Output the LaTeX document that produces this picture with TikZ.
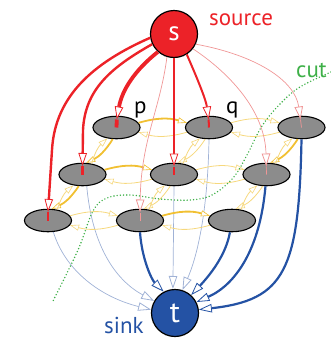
\documentclass[tikz,border=0pt]{standalone}
\usepackage{fontspec}
\newfontfamily\lbl{PT Sans}
\usetikzlibrary{arrows.meta,shapes.geometric,calc}
\definecolor{srcred}{RGB}{236,34,40}
\definecolor{pinkthin}{RGB}{240,150,150}
\definecolor{sinkblue}{RGB}{36,82,164}
\definecolor{lightblue}{RGB}{160,178,214}
\definecolor{gthick}{RGB}{241,192,50}
\definecolor{gthin}{RGB}{246,216,125}
\definecolor{nodegray}{RGB}{140,140,140}
\definecolor{cutgreen}{RGB}{62,176,72}
\newcommand\hpair[4]{%
  \draw[#3,ytip] (#1.12) to[bend left=16] (#2.168);
  \draw[#4,ytip] (#2.192) to[bend left=16] (#1.-12);}
\newcommand\dpair[4]{%
  \draw[#3,ytip] (#1.252) to[bend left=16] (#2.72);
  \draw[#4,ytip] (#2.50) to[bend left=16] (#1.230);}
\begin{document}
\begin{tikzpicture}[x=1pt,y=1pt,
  cell/.style={ellipse,draw=black,line width=1.1pt,fill=nodegray,
    minimum width=47pt,minimum height=22.5pt,inner sep=0pt},
  term/.style={circle,draw=black,line width=1.2pt,minimum size=47pt,
    inner sep=0pt,text=white},
  lab/.style={font=\lbl\fontsize{23}{23}\selectfont,inner sep=0pt},
  bigtip/.style={-{Triangle[length=13pt,width=8.5pt,fill=white,line width=0.8pt]}},
  ytip/.style={-{Triangle[length=9pt,width=6pt,fill=white,line width=0.6pt]}},
  redA/.style={draw=srcred,line width=2.4pt},
  redB/.style={draw=srcred,line width=3.8pt},
  redC/.style={draw=srcred,line width=2pt},
  pinkE/.style={draw=pinkthin,line width=0.7pt},
  blueA/.style={draw=sinkblue,line width=2.2pt},
  blueT/.style={draw=lightblue,line width=0.7pt},
  yT/.style={draw=gthick,line width=1.8pt},
  yt/.style={draw=gthin,line width=0.8pt},
]
\useasboundingbox (0,0) rectangle (331,-338);

% nodes
\node[term,fill=srcred,font=\lbl\fontsize{27}{27}\selectfont] (s) at (174,-34) {s};
\node[term,fill=sinkblue,font=\lbl\fontsize{30}{30}\selectfont] (t) at (175,-313) {t};

\node[cell] (a1) at (116.5,-127.5) {};
\node[cell] (a2) at (209,-127.5) {};
\node[cell] (a3) at (301.5,-127.5) {};
\node[cell] (b1) at (82.5,-174.5) {};
\node[cell] (b2) at (174,-174.5) {};
\node[cell] (b3) at (266.5,-174.5) {};
\node[cell] (c1) at (48,-220.5) {};
\node[cell] (c2) at (140,-220.5) {};
\node[cell] (c3) at (232,-220.5) {};

% labels
\node[lab,text=srcred,anchor=base west] (lsrc) at (209,-25) {source};
\node[lab,text=cutgreen,anchor=base west] (lcut) at (296,-77) {cut};
\node[lab,text=sinkblue,anchor=base west] (lsink) at (104,-333) {sink};
\node[lab,anchor=base west] (lp) at (134,-113) {p};
\node[lab,anchor=base west] (lq) at (226,-113) {q};

% edges to sink
\draw[blueT,bigtip] (c1.-65) .. controls (65,-270) and (100,-297) .. (t.172);
\draw[blueT,bigtip] (b1.-70) .. controls (92,-245) and (115,-280) .. (t.150);
\draw[blueA,bigtip] (c2.south) .. controls (142,-260) and (152,-280) .. (t.118);
\draw[blueT,bigtip] (b2.south) -- (t.95);
\draw[blueT,bigtip] (a2.south) .. controls (208,-200) and (200,-250) .. (t.72);
\draw[blueA,bigtip] (c3.-100) .. controls (226,-255) and (210,-275) .. (t.48);
\draw[blueA,bigtip] (b3.-95) .. controls (260,-250) and (235,-285) .. (t.27);
\draw[blueA,bigtip] (a3.south) .. controls (299,-270) and (285,-300) .. (t.8);

% neighbour edges
\hpair{a1}{a2}{yT}{yt}
\hpair{a2}{a3}{yt}{yt}
\hpair{b1}{b2}{yT}{yt}
\hpair{b2}{b3}{yt}{yt}
\hpair{c1}{c2}{yt}{yt}
\hpair{c2}{c3}{yT}{yt}
\dpair{a1}{b1}{yT}{yt}
\dpair{a2}{b2}{yt}{yt}
\dpair{a3}{b3}{yT}{yt}
\dpair{b1}{c1}{yT}{yt}
\dpair{b2}{c2}{yt}{yt}
\dpair{b3}{c3}{yt}{yt}

% edges from source
\coordinate (k1) at (48,-212);
\coordinate (k2) at (82.5,-166);
\coordinate (k3) at (116.8,-119.5);
\coordinate (k4) at (140,-212.5);
\coordinate (k5) at (174,-166.5);
\coordinate (k6) at (208.6,-119.5);
\coordinate (k7) at (266.3,-166.5);
\coordinate (k8) at (300.5,-119.5);
\draw[redA,bigtip] (s.189) .. controls (95,-62) and (55,-95) .. (52,-150) -- (k1);
\draw[redA] (k1) -- (c1.center);
\draw[redA,bigtip] (s.205) .. controls (110,-68) and (85,-90) .. (83,-130) -- (k2);
\draw[redA] (k2) -- (b1.center);
\draw[redB,bigtip] (s.228) .. controls (135,-70) and (122,-90) .. (k3);
\draw[redB] (k3) -- (a1.center);
\draw[pinkE,bigtip] (s.253) .. controls (160,-110) and (141,-140) .. (k4);
\draw[pinkE] (k4) -- (c2.center);
\draw[redA,bigtip] (s.south) -- (k5);
\draw[redA] (k5) -- (b2.center);
\draw[redC,bigtip] (s.-58) .. controls (198,-80) and (206,-100) .. (k6);
\draw[redC] (k6) -- (a2.center);
\draw[pinkE,bigtip] (s.-38) .. controls (228,-72) and (265,-110) .. (k7);
\draw[pinkE] (k7) -- (b3.center);
\draw[pinkE,bigtip] (s.-25) .. controls (255,-55) and (295,-80) .. (k8);
\draw[pinkE] (k8) -- (a3.center);

% the cut
\draw[cutgreen,line width=1.6pt,line cap=round,dash pattern=on 0pt off 3.2pt]
  plot[smooth,tension=0.6] coordinates {(331,-72) (300,-87) (280,-104) (262,-126)
  (247,-155) (233,-178) (212,-195) (190,-200) (160,-199) (130,-195) (107,-198)
  (93,-211) (78,-250) (53,-301)};
\end{tikzpicture}
\end{document}
